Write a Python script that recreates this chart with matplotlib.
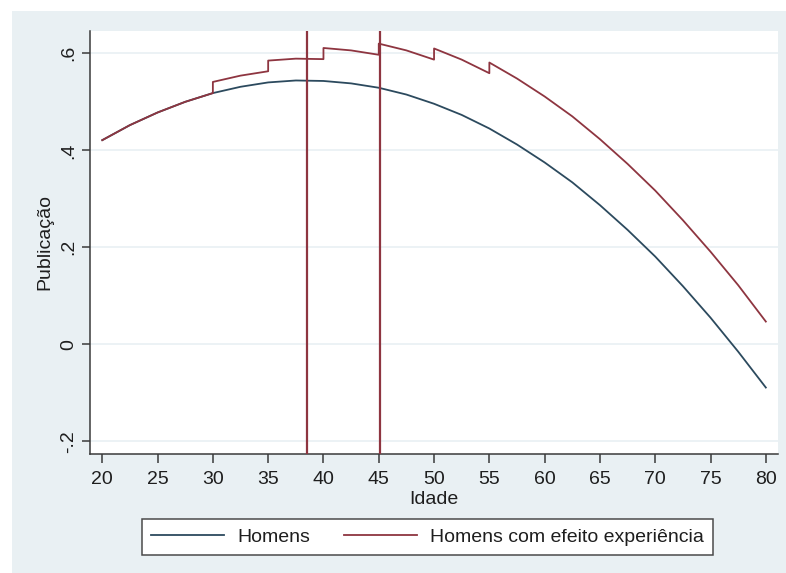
import matplotlib.pyplot as plt
from matplotlib.patches import Rectangle

# idade (anos) e publicação prevista
idade = [20, 22.5, 25, 27.5, 30, 32.5, 35, 37.5, 40, 42.5, 45, 47.5, 50,
         52.5, 55, 57.5, 60, 62.5, 65, 67.5, 70, 72.5, 75, 77.5, 80]
homens = [0.421, 0.452, 0.478, 0.500, 0.518, 0.531, 0.540, 0.544, 0.543,
          0.538, 0.529, 0.515, 0.496, 0.473, 0.445, 0.412, 0.375, 0.334,
          0.287, 0.236, 0.181, 0.120, 0.055, -0.015, -0.089]

# curva com saltos de experiência a cada 5 anos
idade_exp = [20, 22.5, 25, 27.5, 30, 30, 32.5, 35, 35, 37.5, 40, 40, 42.5,
             45, 45, 47.5, 50, 50, 52.5, 55, 55, 57.5, 60, 62.5, 65, 67.5,
             70, 72.5, 75, 77.5, 80]
homens_exp = [0.421, 0.452, 0.478, 0.500, 0.518, 0.541, 0.554, 0.563, 0.585,
              0.589, 0.588, 0.611, 0.606, 0.597, 0.620, 0.606, 0.587, 0.610,
              0.587, 0.559, 0.581, 0.548, 0.511, 0.470, 0.423, 0.372, 0.317,
              0.256, 0.191, 0.122, 0.047]

cortes = [38.55, 45.1]

xticks = [20, 25, 30, 35, 40, 45, 50, 55, 60, 65, 70, 75, 80]
yticks = [-0.2, 0, 0.2, 0.4, 0.6]
ylabels = ['-.2', '0', '.2', '.4', '.6']

azul = '#2c4a5e'
vinho = '#8e3540'
fundo = '#e9f0f3'
texto = '#1e1e1e'
fs = 14

plt.rcParams['font.family'] = ['Liberation Sans', 'DejaVu Sans']

W, H = 786, 573
fig = plt.figure(figsize=(W / 100, H / 100), dpi=100, facecolor='white')
fig.patches.append(Rectangle((12 / W, 0), 1 - 12 / W, 1 - 11 / H,
                             transform=fig.transFigure, facecolor=fundo,
                             edgecolor='none', zorder=-10))

ax = fig.add_axes([90 / W, 1 - 454 / H, 688 / W, 423 / H])
ax.set_facecolor('white')

ax.plot(idade, homens, color=azul, lw=1.3, label='Homens', zorder=3)
ax.plot(idade_exp, homens_exp, color=vinho, lw=1.3,
        label='Homens com efeito experiência', zorder=3)
for c in cortes:
    ax.axvline(c, color=vinho, lw=1.6, zorder=4)

ax.set_xlim(18.89, 81.1)
ax.set_ylim(-0.226, 0.646)
ax.set_xticks(xticks)
ax.set_yticks(yticks)
ax.set_yticklabels(ylabels, rotation=90, va='center')
ax.grid(axis='y', color=fundo, lw=1.2, zorder=0)
ax.grid(axis='x', visible=False)

for s in ['top', 'right']:
    ax.spines[s].set_visible(False)
for s in ['left', 'bottom']:
    ax.spines[s].set_color('#3a3a3a')
    ax.spines[s].set_linewidth(1.1)

ax.tick_params(axis='both', colors='#3a3a3a', labelcolor=texto,
               labelsize=fs, width=1.1)
ax.tick_params(axis='x', length=6.5, pad=6)
ax.tick_params(axis='y', length=6, pad=3)

ax.set_xlabel('Idade', fontsize=fs, color=texto, labelpad=2)
ax.set_ylabel('Publicação', fontsize=fs, color=texto, labelpad=5)

leg = fig.legend(loc='center', bbox_to_anchor=(427.5 / W, 1 - 537 / H),
                 ncol=2, fontsize=fs, frameon=True, fancybox=False,
                 framealpha=1, handlelength=3.75, handletextpad=0.67,
                 columnspacing=1.75, borderpad=0.45, labelcolor=texto)
leg.get_frame().set_edgecolor('#4a4a4a')
leg.get_frame().set_linewidth(1.1)
leg.get_frame().set_facecolor('white')

fig.savefig('out.png', dpi=100)
